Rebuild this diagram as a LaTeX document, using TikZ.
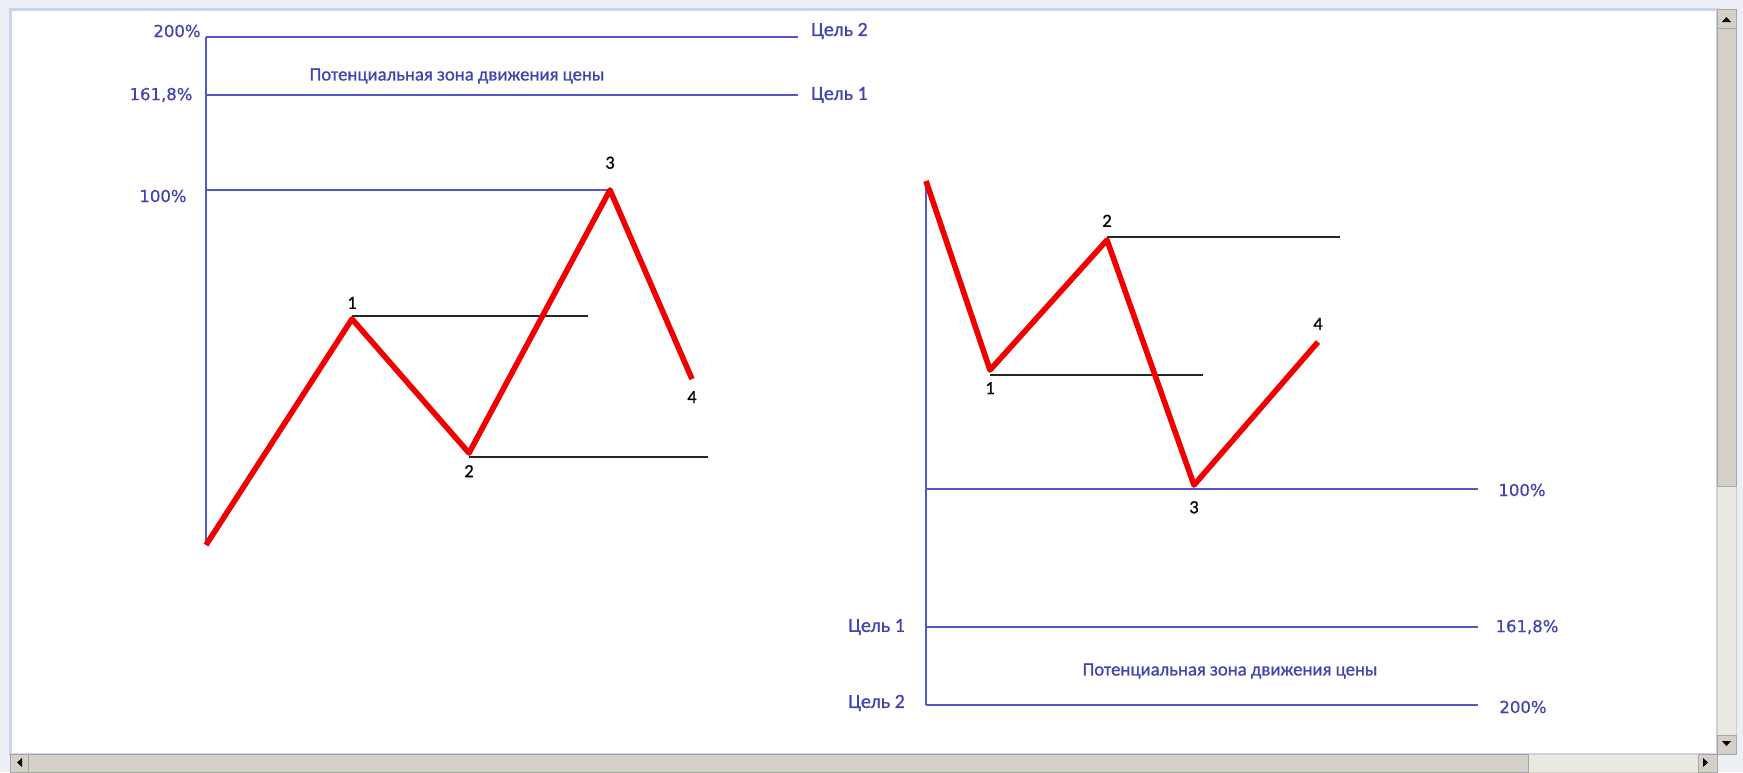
\documentclass[tikz,border=0pt]{standalone}
\usepackage{fontspec}
\setmainfont{Carlito}
\newfontfamily\zonefont{Carlito}[FakeBold=0.8]
\newfontfamily\pctfont{DejaVu Sans}[FakeBold=0.5]
\usetikzlibrary{positioning}

\definecolor{levelblue}{RGB}{86,86,196}
\definecolor{labelblue}{RGB}{66,66,176}
\definecolor{wavered}{RGB}{240,0,0}
\definecolor{frameblue}{RGB}{200,212,232}
\definecolor{outerbg}{RGB}{236,240,246}
\definecolor{bargray}{RGB}{212,208,200}
\definecolor{trackgray}{RGB}{234,232,226}

\begin{document}
\begin{tikzpicture}[
    x=1pt, y=-1pt,
    level/.style={
        draw=levelblue,
        line width=1.2pt
    },
    pivot/.style={
        draw=black!85,
        line width=1.1pt
    },
    wave/.style={
        draw=wavered,
        line width=5.6pt,
        line join=round
    },
    pct/.style={
        text=labelblue,
        inner sep=0pt,
        font=\pctfont\fontsize{16.5}{19}\selectfont
    },
    goal/.style={
        text=labelblue,
        inner sep=0pt,
        font=\zonefont\fontsize{20}{22}\selectfont
    },
    zone/.style={
        text=labelblue,
        inner sep=0pt,
        font=\zonefont\fontsize{18.7}{21}\selectfont
    },
    num/.style={
        text=black,
        inner sep=0pt,
        font=\zonefont\fontsize{18.5}{20}\selectfont
    }
]

% Window
\useasboundingbox (0,0) rectangle (1743,772);
\fill[outerbg] (0,0) rectangle (1743,772);
\filldraw[fill=white, draw=frameblue, line width=3pt] (10,9) rectangle (1717,754);

% Scroll bars
\filldraw[fill=trackgray, draw=bargray] (1717,9) rectangle (1736,754);
\filldraw[fill=bargray, draw=gray!70] (1717,9) rectangle (1736,28);
\filldraw[fill=bargray, draw=gray!70] (1717,28) rectangle (1736,486);
\filldraw[fill=bargray, draw=gray!70] (1717,735) rectangle (1736,754);
\fill[black] (1722,22) -- (1731,22) -- (1726.5,17) -- cycle;
\fill[black] (1722,741) -- (1731,741) -- (1726.5,746) -- cycle;
\filldraw[fill=trackgray, draw=bargray] (10,754) rectangle (1717,772);
\filldraw[fill=bargray, draw=gray!70] (10,754) rectangle (28,772);
\filldraw[fill=bargray, draw=gray!70] (28,754) rectangle (1528,772);
\filldraw[fill=bargray, draw=gray!70] (1698,754) rectangle (1717,772);
\fill[black] (22,758) -- (22,767) -- (17,762.5) -- cycle;
\fill[black] (1703,758) -- (1703,767) -- (1708,762.5) -- cycle;

% Left chart: points
\coordinate (s0) at (206,545);
\coordinate (p1) at (352,319);
\coordinate (p2) at (469,453);
\coordinate (p3) at (610,190);
\coordinate (p4) at (692,379);

\coordinate (axisTopL) at (206,37);
\coordinate (lvl161L) at (206,95);
\coordinate (lvl100L) at (206,190);
\coordinate (end200L) at (798,37);
\coordinate (end161L) at (798,95);
\coordinate (end1L) at (588,316);
\coordinate (end2L) at (708,457);

% Left chart: levels
\draw[level] (axisTopL) -- (s0);
\draw[level] (axisTopL) -- (end200L);
\draw[level] (lvl161L) -- (end161L);
\draw[level] (lvl100L) -- (p3);

\draw[pivot] (p1 |- end1L) -- (end1L);
\draw[pivot] (p2 |- end2L) -- (end2L);

\draw[wave] (s0) -- (p1) -- (p2) -- (p3) -- (p4);

% Left chart: labels
\node[pct] (pct200L) at (177,31) {200\%};
\node[pct] (pct161L) at (161,95) {161,8\%};
\node[pct] (pct100L) at (163,196) {100\%};
\node[goal, anchor=west] (goal2L) at (811,31) {Цель 2};
\node[goal, anchor=west] (goal1L) at (811,95) {Цель 1};
\node[zone] (zoneL) at (457,76) {Потенциальная зона движения цены};

\node[num, above=10pt of p1] (d1L) {1};
\node[num, below=12pt of p2] (d2L) {2};
\node[num, above=21pt of p3] (d3L) {3};
\node[num, below=12pt of p4] (d4L) {4};

% Right chart: points
\coordinate (r0) at (926,181);
\coordinate (q1) at (990,370);
\coordinate (q2) at (1107,240);
\coordinate (q3) at (1194,485);
\coordinate (q4) at (1318,342);

\coordinate (axisBotR) at (926,705);
\coordinate (lvl100R) at (926,489);
\coordinate (lvl161R) at (926,627);
\coordinate (end100R) at (1478,489);
\coordinate (end161R) at (1478,627);
\coordinate (end200R) at (1478,705);
\coordinate (end2R) at (1340,237);
\coordinate (end1R) at (1203,375);

% Right chart: levels
\draw[level] (r0) -- (axisBotR);
\draw[level] (lvl100R) -- (end100R);
\draw[level] (lvl161R) -- (end161R);
\draw[level] (axisBotR) -- (end200R);

\draw[pivot] (q2 |- end2R) -- (end2R);
\draw[pivot] (q1 |- end1R) -- (end1R);

\draw[wave] (r0) -- (q1) -- (q2) -- (q3) -- (q4);

% Right chart: labels
\node[pct] (pct100R) at (1522,490) {100\%};
\node[pct] (pct161R) at (1527,627) {161,8\%};
\node[pct] (pct200R) at (1523,707) {200\%};
\node[goal, anchor=east] (goal1R) at (905,627) {Цель 1};
\node[goal, anchor=east] (goal2R) at (905,703) {Цель 2};
\node[zone] (zoneR) at (1230,671) {Потенциальная зона движения цены};

\node[num, below=12pt of q1] (d1R) {1};
\node[num, above=13pt of q2] (d2R) {2};
\node[num, below=16pt of q3] (d3R) {3};
\node[num, above=12pt of q4] (d4R) {4};

\end{tikzpicture}
\end{document}
